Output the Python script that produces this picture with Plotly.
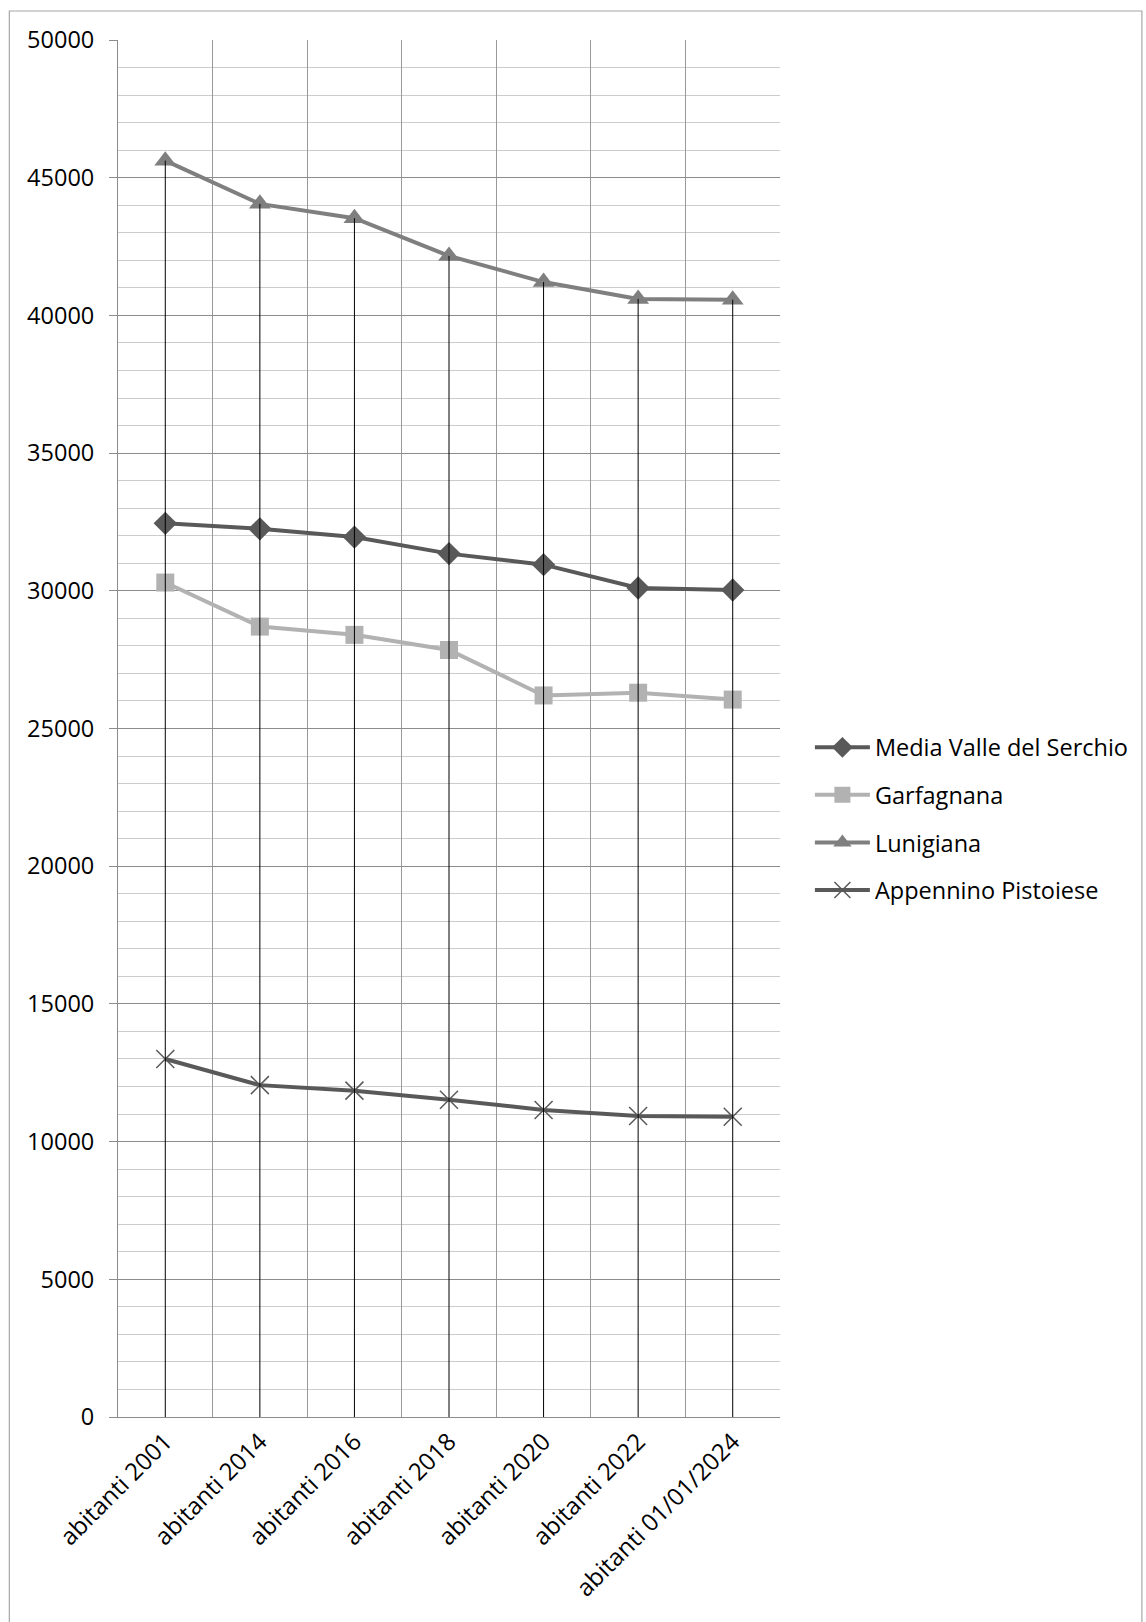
import plotly.graph_objects as go

categories = ["abitanti 2001", "abitanti 2014", "abitanti 2016", "abitanti 2018",
              "abitanti 2020", "abitanti 2022", "abitanti 01/01/2024"]
media_valle = [32450, 32250, 31950, 31350, 30950, 30100, 30030]
garfagnana = [30300, 28700, 28400, 27850, 26200, 26300, 26050]
lunigiana = [45620, 44050, 43530, 42160, 41210, 40600, 40570]
appennino = [13000, 12050, 11850, 11520, 11150, 10930, 10900]
series_names = ["Media Valle del Serchio", "Garfagnana", "Lunigiana", "Appennino Pistoiese"]

FONT = "Open Sans"
FS = 23.5

fig = go.Figure()

styles = [
    (media_valle, "#595959", dict(symbol="diamond", size=18, color="#595959")),
    (garfagnana, "#b2b2b2", dict(symbol="square", size=18, color="#b2b2b2")),
    (lunigiana, "#7f7f7f", dict(symbol="triangle-up", size=19, color="#7f7f7f")),
    (appennino, "#595959", dict(symbol="x-thin", size=18, color="#595959",
                                line=dict(color="#595959", width=1.5))),
]
for i, (vals, col, mk) in enumerate(styles):
    fig.add_trace(go.Scatter(
        x=categories, y=vals, name=series_names[i], mode="lines+markers",
        line=dict(color=col, width=4), marker=mk, legendgroup=str(i),
    ))

# drop lines from the highest value of each category down to the axis
all_series = [media_valle, garfagnana, lunigiana, appennino]
dx, dy = [], []
for j, c in enumerate(categories):
    top = max(s[j] for s in all_series)
    dx += [c, c, None]
    dy += [0, top, None]
fig.add_trace(go.Scatter(x=dx, y=dy, mode="lines", line=dict(color="black", width=1),
                         showlegend=False, hoverinfo="skip"))

L, T, B, R_EDGE = 118, 40, 205, 782
W, H = 1146, 1622
plot_w = R_EDGE - L
plot_h = H - T - B

fig.update_layout(
    width=W, height=H,
    margin=dict(l=L, r=W - R_EDGE, t=T, b=B),
    paper_bgcolor="white", plot_bgcolor="white",
    font=dict(family=FONT, size=FS, color="black"),
    showlegend=True,
    legend=dict(
        x=(812 - L) / plot_w, xanchor="left",
        y=(H - B - 819) / plot_h, yanchor="middle",
        font=dict(family=FONT, size=FS, color="black"),
        itemwidth=55, tracegroupgap=14, bgcolor="rgba(0,0,0,0)",
    ),
    shapes=[dict(type="rect", xref="paper", yref="paper",
                 x0=(9 - L) / plot_w, x1=(1145 - L) / plot_w,
                 y0=(H - B - 1630) / plot_h, y1=(H - B - 11) / plot_h,
                 line=dict(color="#a6a6a6", width=1.2), fillcolor="rgba(0,0,0,0)",
                 layer="below")],
)

fig.update_xaxes(
    type="category", tickson="boundaries", showgrid=True, gridcolor="#999999", gridwidth=1,
    showline=True, linecolor="#8c8c8c", linewidth=1, ticks="", tickangle=-45,
    tickfont=dict(family=FONT, size=24, color="black"), zeroline=False,
    range=[-0.5, len(categories) - 0.5],
)
fig.update_yaxes(
    range=[0, 50000], dtick=5000, tick0=0, tickformat="d",
    showgrid=True, gridcolor="#8c8c8c", gridwidth=1,
    minor=dict(dtick=1000, showgrid=True, gridcolor="#cccccc", gridwidth=1, ticks=""),
    showline=True, linecolor="#8c8c8c", linewidth=1,
    ticks="outside", ticklen=8, tickcolor="#8c8c8c", ticklabelstandoff=10,
    tickfont=dict(family=FONT, size=FS, color="black"), zeroline=False,
)

fig.write_html("out.html", config={"displayModeBar": False},
               post_script="document.body.style.margin='0';")
